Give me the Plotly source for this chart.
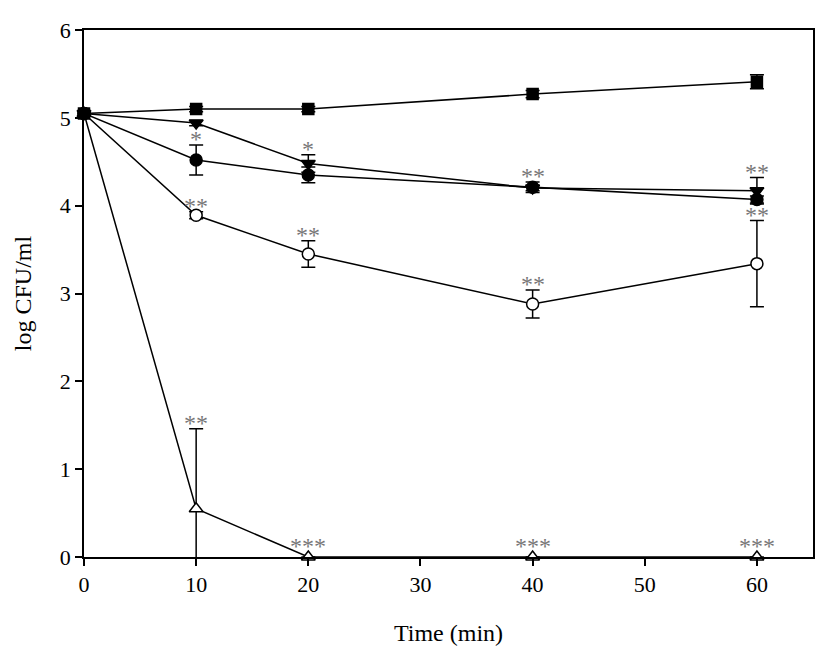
import plotly.graph_objects as go

time = [0, 10, 20, 40, 60]

sq_y = [5.05, 5.10, 5.10, 5.27, 5.41]
sq_e = [0.02, 0.03, 0.03, 0.04, 0.08]
sq_s = ["", "", "", "", ""]

tri_dn_y = [5.05, 4.94, 4.48, 4.20, 4.17]
tri_dn_e = [0.02, 0.03, 0.10, 0.03, 0.15]
tri_dn_s = ["", "", "*", "", "**"]

fc_y = [5.05, 4.52, 4.35, 4.21, 4.07]
fc_e = [0.02, 0.17, 0.09, 0.06, 0.04]
fc_s = ["", "*", "", "**", ""]

oc_y = [5.05, 3.89, 3.45, 2.88, 3.34]
oc_e = [0.02, 0.04, 0.15, 0.16, 0.49]
oc_s = ["", "**", "**", "**", "**"]

tri_up_y = [5.05, 0.55, 0.0, 0.0, 0.0]
tri_up_e = [0.0, 0.91, 0.0, 0.0, 0.0]
tri_up_s = ["", "**", "***", "***", "***"]

# drawn bottom to top (square on top, as in the reference)
series = [
    (tri_up_y, tri_up_e, tri_up_s, "triangle-up", "white", 12),
    (oc_y, oc_e, oc_s, "circle", "white", 12),
    (fc_y, fc_e, fc_s, "circle", "black", 12),
    (tri_dn_y, tri_dn_e, tri_dn_s, "triangle-down", "black", 12),
    (sq_y, sq_e, sq_s, "square", "black", 11),
]

SERIF = "Liberation Serif"

fig = go.Figure()
annotations = []
for ys, es, ss, sym, fill, size in series:
    fig.add_trace(go.Scatter(
        x=time, y=ys, mode="lines+markers",
        line=dict(color="black", width=1.5),
        marker=dict(symbol=sym, size=size, color=fill, line=dict(color="black", width=1.5)),
        error_y=dict(type="data", array=es, visible=True, color="black", thickness=1.5, width=7),
        cliponaxis=False, showlegend=False,
    ))
    for x, y, e, s in zip(time, ys, es, ss):
        if s:
            annotations.append(dict(
                x=x, y=y + e, xref="x", yref="y", text=s, showarrow=False,
                yanchor="bottom", yshift=-9 if y + e > 0.1 else -4,
                font=dict(family=SERIF, size=24, color="#777777"),
            ))

axis_common = dict(
    ticks="outside", ticklen=7, tickwidth=1.5, tickcolor="black",
    showline=True, linecolor="black", linewidth=1.5, mirror=True,
    showgrid=False, zeroline=False,
    tickfont=dict(family=SERIF, size=22, color="black"),
)

fig.update_layout(
    width=827, height=660,
    margin=dict(l=84, r=14, t=30, b=103),
    plot_bgcolor="white", paper_bgcolor="white",
    font=dict(family=SERIF, size=22, color="black"),
    annotations=annotations,
    xaxis=dict(
        range=[0, 65], tickvals=[0, 10, 20, 30, 40, 50, 60],
        title=dict(text="Time (min)", font=dict(family=SERIF, size=24), standoff=28),
        **axis_common,
    ),
    yaxis=dict(
        range=[0, 6], tickvals=[0, 1, 2, 3, 4, 5, 6],
        title=dict(text="log CFU/ml", font=dict(family=SERIF, size=24), standoff=21),
        **axis_common,
    ),
)

fig.write_html("out.html")
